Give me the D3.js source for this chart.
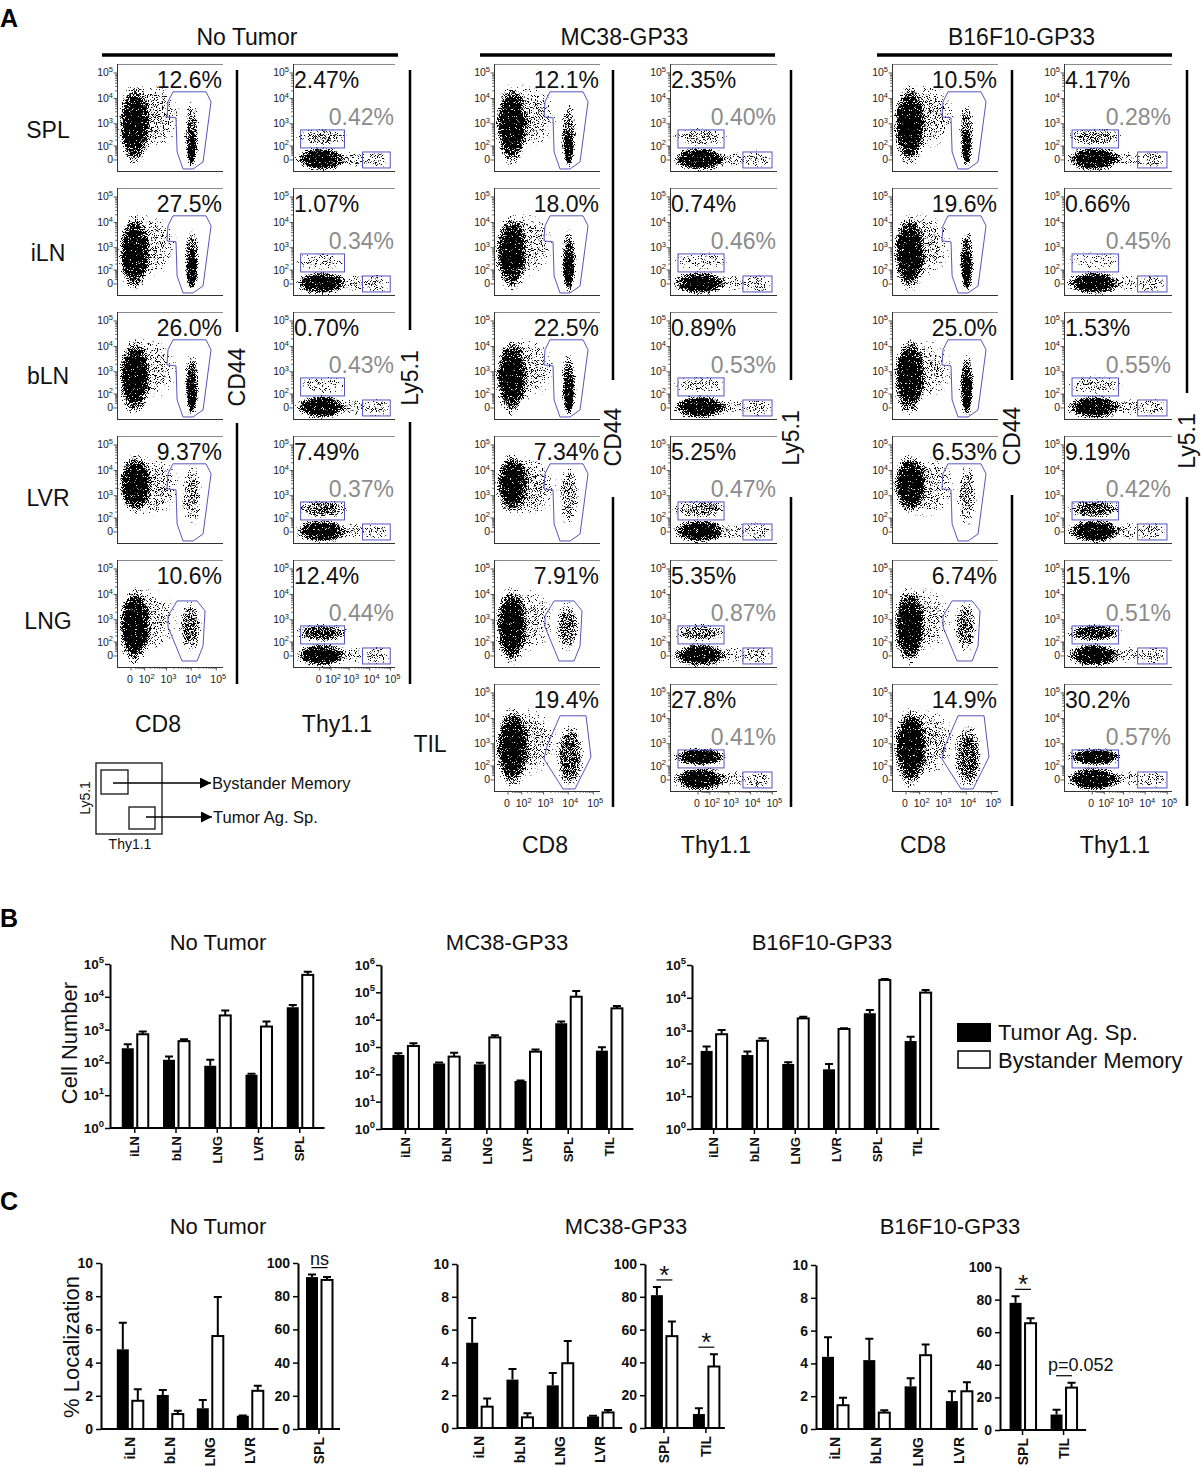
<!DOCTYPE html>
<html>
<head>
<meta charset="utf-8">
<script src="https://cdn.jsdelivr.net/npm/d3@7"></script>
<style>
  body { margin: 0; background: #fff; }
  svg { display: block; }
</style>
</head>
<body>
<script>
// ---------- data: panel A (flow cytometry) ----------
const GROUPS = ["No Tumor", "MC38-GP33", "B16F10-GP33"];
const FLOW_TISSUES = ["SPL", "iLN", "bLN", "LVR", "LNG", "TIL"];
const cd8Pct = [
  [12.6, 27.5, 26.0, 9.37, 10.6],
  [12.1, 18.0, 22.5, 7.34, 7.91, 19.4],
  [10.5, 19.6, 25.0, 6.53, 6.74, 14.9]
];
const bystanderPct = [
  [2.47, 1.07, 0.70, 7.49, 12.4],
  [2.35, 0.74, 0.89, 5.25, 5.35, 27.8],
  [4.17, 0.66, 1.53, 9.19, 15.1, 30.2]
];
const tumorAgPct = [
  [0.42, 0.34, 0.43, 0.37, 0.44],
  [0.40, 0.46, 0.53, 0.47, 0.87, 0.41],
  [0.28, 0.45, 0.55, 0.42, 0.51, 0.57]
];
const flowMajorTicks = [0, 1e2, 1e3, 1e4, 1e5];

// populations as density clouds in data units: x range, y range, relative density
const cd8Clouds = {
  SPL: [{x: [-95, 220], y: [-40, 40000], d: 1}, {x: [-90, 4000], y: [60, 40000], d: 0.42}, {x: [5000, 22000], y: [-60, 9000], d: 0.6}, {x: [6500, 16000], y: [-40, 700], d: 0.95}],
  iLN: [{x: [-95, 220], y: [-50, 22000], d: 1}, {x: [-90, 3000], y: [30, 25000], d: 0.38}, {x: [5000, 22000], y: [-60, 6000], d: 0.75}, {x: [6500, 17000], y: [-40, 1000], d: 1}],
  bLN: [{x: [-95, 220], y: [-50, 22000], d: 1}, {x: [-90, 3000], y: [30, 25000], d: 0.38}, {x: [5000, 22000], y: [-60, 6000], d: 0.75}, {x: [6500, 17000], y: [-40, 1000], d: 1}],
  LVR: [{x: [-95, 240], y: [150, 50000], d: 1}, {x: [-90, 4000], y: [100, 40000], d: 0.42}, {x: [4000, 28000], y: [20, 20000], d: 0.48}],
  LNG: [{x: [-95, 220], y: [-60, 22000], d: 1}, {x: [-90, 3000], y: [10, 20000], d: 0.38}, {x: [3000, 28000], y: [10, 6000], d: 0.6}],
  TIL: [{x: [-95, 260], y: [-60, 30000], d: 1}, {x: [-90, 4000], y: [10, 30000], d: 0.42}, {x: [3000, 45000], y: [-60, 7000], d: 0.7}]
};
const cd8Gates = {
  tall: [[1840, 18300], [38900, 18300], [61600, 7440], [29600, -8], [11800, -50], [4680, -50], [2700, 42], [2440, 1720], [1040, 1880], [1150, 7440]],
  short: [[2700, 5600], [17100, 5600], [35500, 2260], [29600, 58], [17100, -23], [4280, -23], [2700, 35], [1150, 505], [1150, 1425]],
  til: [[4680, 12800], [51400, 12800], [80800, 276], [18700, -50], [6200, -50], [1040, 225], [1400, 818]]
};
const thyMainCloud = {x: [-650, 1000], y: [-75, 95], d: 1};
const thyTrailCloud = {x: [300, 9000], y: [-40, 55], d: 0.32};
const thyTumorCloud = {x: [4000, 100000], y: [-50, 60], d: 0.38};
const thyBystRange = {x: [-600, 1000], y: [95, 720]};
const thyGates = {bystander: {x: [-290, 580], y: [78, 556]}, tumor: {x: [4500, 97000], y: [-42, 42]}};

// ---------- data: panel B (cell number, log) ----------
const countTissues = [
  ["iLN", "bLN", "LNG", "LVR", "SPL"],
  ["iLN", "bLN", "LNG", "LVR", "SPL", "TIL"],
  ["iLN", "bLN", "LNG", "LVR", "SPL", "TIL"]
];
const countTumorAg = [[270, 120, 79, 42, 4800], [510, 250, 232, 57, 7400, 735], [240, 180, 96, 66, 3380, 480]];
const countTumorAgErr = [[360, 150, 120, 45, 5650], [590, 270, 268, 60, 8500, 970], [325, 230, 108, 96, 4250, 655]];
const countBystander = [[720, 445, 2700, 1240, 46500], [1090, 445, 2250, 675, 69000, 26000], [775, 490, 2360, 1120, 35000, 14400]];
const countBystanderErr = [[870, 510, 3800, 1770, 58500], [1360, 620, 2670, 815, 112000, 31600], [1040, 580, 2660, 1170, 37500, 17300]];
const countMaxExp = [5, 6, 5];
const legendLabels = ["Tumor Ag. Sp.", "Bystander Memory"];

// ---------- data: panel C (% localization) ----------
const locSmallTissues = ["iLN", "bLN", "LNG", "LVR"];
const locTumorSmall = [[4.8, 2.05, 1.25, 0.8], [5.2, 2.95, 2.6, 0.7], [4.4, 4.2, 2.6, 1.7]];
const locTumorSmallErr = [[6.4, 2.35, 1.75, 0.82], [6.7, 3.6, 3.35, 0.75], [5.6, 5.5, 3.1, 2.3]];
const locBystSmall = [[1.7, 0.9, 5.6, 2.3], [1.3, 0.65, 3.95, 0.95], [1.45, 1.0, 4.5, 2.3]];
const locBystSmallErr = [[2.4, 1.1, 7.95, 2.6], [1.8, 0.9, 5.3, 1.1], [1.9, 1.15, 5.15, 2.85]];
const locBigTissues = [["SPL"], ["SPL", "TIL"], ["SPL", "TIL"]];
const locTumorBig = [[91.5], [81, 8.5], [78, 9.5]];
const locTumorBigErr = [[93], [86, 12], [82, 12.5]];
const locBystBig = [[89.8], [56, 37.5], [65.5, 26]];
const locBystBigErr = [[91.5], [65, 45], [68.5, 29]];
const locSignif = [["ns"], ["*", "*"], ["*", "p=0.052"]];

// ---------- layout ----------
const W = 1201, H = 1467;
const FONT = "'Liberation Sans', Arial, Helvetica, sans-serif";
const ROW_TOP0 = 64, ROW_STEP = 124, PLOT_H = 107, CD8_W = 106;
const ROW_LABEL_Y = [130, 253, 376, 498, 621, 744];
const A_LAYOUT = [
  {cd8X: 117, thyX: 293, thyW: 102, head: [102, 398], cd44X: 237, lyX: 410, lineEnd: 684, cd44Gap: [332, 423], lyGap: [330, 422], cd44Y: 377, lyY: 378, axY: 732, cd8LabX: 158, thyLabX: 337},
  {cd8X: 494, thyX: 670, thyW: 107, head: [480, 775], cd44X: 613, lyX: 791, lineEnd: 807, cd44Gap: [380, 497], lyGap: [380, 497], cd44Y: 437, lyY: 438, axY: 853, cd8LabX: 545, thyLabX: 716},
  {cd8X: 892, thyX: 1064, thyW: 108, head: [877, 1172], cd44X: 1012, lyX: 1187, lineEnd: 806, cd44Gap: [380, 495], lyGap: [393, 497], cd44Y: 436, lyY: 441, axY: 853, cd8LabX: 923, thyLabX: 1115}
];
const B_LAYOUT = [
  {x0: 110, step: 41.25, pad: 0.6, yTop: 964, yBot: 1128, titleX: 218},
  {x0: 381, step: 40.7, pad: 0.6, yTop: 965, yBot: 1129, titleX: 507},
  {x0: 692, step: 40.8, pad: 0.53, yTop: 965, yBot: 1129, titleX: 822}
];
const C_LAYOUT = [
  {small: {x0: 101, step: 40, pad: 0.72}, big: {x0: 298, step: 42, pad: 0.5}, yTop: 1263, yBot: 1429, bigTop: 1263, bigBot: 1429, titleX: 218},
  {small: {x0: 457, step: 40.3, pad: 0.55}, big: {x0: 645, step: 42, pad: 0.45}, yTop: 1264, yBot: 1428, bigTop: 1264, bigBot: 1428, titleX: 626},
  {small: {x0: 816, step: 41.3, pad: 0.46}, big: {x0: 1000, step: 41, pad: 0.55}, yTop: 1265, yBot: 1429, bigTop: 1267, bigBot: 1430, titleX: 950}
];

const svg = d3.select("body").append("svg")
  .attr("width", W).attr("height", H)
  .attr("viewBox", `0 0 ${W} ${H}`)
  .attr("font-family", FONT);
svg.append("rect").attr("width", W).attr("height", H).attr("fill", "#fff");
const defs = svg.append("defs");

// soft cloud + speckle filter so the clouds read as dot plots
const grad = defs.append("radialGradient").attr("id", "cloudGrad");
grad.selectAll("stop")
  .data([[0, 1], [0.45, 1], [0.66, 0.8], [0.85, 0.36], [1, 0]])
  .join("stop")
  .attr("offset", d => d[0])
  .attr("stop-color", "#000")
  .attr("stop-opacity", d => d[1]);
const filt = defs.append("filter").attr("id", "speckle")
  .attr("x", "-10%").attr("y", "-10%").attr("width", "120%").attr("height", "120%")
  .attr("color-interpolation-filters", "sRGB");
filt.append("feTurbulence").attr("type", "fractalNoise").attr("baseFrequency", 1.15)
  .attr("numOctaves", 1).attr("seed", 5).attr("result", "noise");
filt.append("feColorMatrix").attr("in", "noise").attr("type", "matrix")
  .attr("values", "0 0 0 0 0  0 0 0 0 0  0 0 0 0 0  2.3 0 0 0 -0.65").attr("result", "na");
filt.append("feComposite").attr("in", "SourceAlpha").attr("in2", "na").attr("operator", "arithmetic")
  .attr("k1", 0).attr("k2", 1).attr("k3", -1).attr("k4", 0).attr("result", "diff");
filt.append("feComponentTransfer").attr("in", "diff")
  .append("feFuncA").attr("type", "linear").attr("slope", 7).attr("intercept", 0);

defs.append("marker").attr("id", "arrow")
  .attr("viewBox", "0 -5 10 10").attr("refX", 10).attr("refY", 0)
  .attr("markerUnits", "userSpaceOnUse").attr("markerWidth", 11).attr("markerHeight", 11)
  .attr("orient", "auto")
  .append("path").attr("d", "M0,-5L10,0L0,5Z").attr("fill", "#000");

function txt(g, x, y, s, size, o = {}) {
  return g.append("text")
    .attr("x", x).attr("y", y)
    .attr("font-size", size)
    .attr("text-anchor", o.anchor || "start")
    .attr("font-weight", o.weight || "normal")
    .attr("fill", o.fill || "#111")
    .text(s);
}
function rotTxt(g, x, y, s, size, o = {}) {
  return g.append("text")
    .attr("transform", `translate(${x},${y}) rotate(-90)`)
    .attr("font-size", size)
    .attr("text-anchor", o.anchor || "middle")
    .attr("font-weight", o.weight || "normal")
    .attr("fill", "#111")
    .text(s);
}
function powLabel(g, x, y, v, size, supSize, o = {}) {
  const t = g.append("text").attr("x", x).attr("y", y).attr("font-size", size)
    .attr("text-anchor", o.anchor || "end").attr("font-weight", o.weight || "normal")
    .attr("fill", o.fill || "#111");
  if (v === 0) { t.text("0"); return t; }
  t.append("tspan").text("10");
  t.append("tspan").attr("dy", -size * 0.42).attr("font-size", supSize).text(Math.round(Math.log10(v)));
  return t;
}
const fmtPct = v => (v >= 10 ? v.toFixed(1) : v.toFixed(2)) + "%";
const bystDensity = d3.scaleSqrt().domain([0, 30]).range([0.18, 1.08]).clamp(true);

// ---------- panel A ----------
let clipN = 0;
function flowPlot(kind, L, T, w, clouds, gate, showX) {
  const y = d3.scaleSymlog().constant(40).domain([-68, 224000]).range([T + PLOT_H, T]);
  const x = kind === "cd8"
    ? d3.scaleSymlog().constant(40).domain([-105, 185000]).range([L, L + w])
    : d3.scaleSymlog().constant(40).domain([-725, 164000]).range([L, L + w]);
  const g = svg.append("g");
  const id = "clip" + (clipN++);
  defs.append("clipPath").attr("id", id)
    .append("rect").attr("x", L + 1).attr("y", T + 1).attr("width", w - 1).attr("height", PLOT_H - 1);
  g.append("g").attr("clip-path", `url(#${id})`)
    .append("g").attr("filter", "url(#speckle)")
    .selectAll("ellipse").data(clouds).join("ellipse")
    .attr("cx", d => (x(d.x[0]) + x(d.x[1])) / 2)
    .attr("cy", d => (y(d.y[0]) + y(d.y[1])) / 2)
    .attr("rx", d => Math.abs(x(d.x[1]) - x(d.x[0])) / 2)
    .attr("ry", d => Math.abs(y(d.y[1]) - y(d.y[0])) / 2)
    .attr("fill", "url(#cloudGrad)")
    .attr("fill-opacity", d => d.d);

  const gateStroke = "#5656bd";
  if (kind === "cd8") {
    g.append("polygon")
      .attr("points", gate.map(p => [x(p[0]), y(p[1])].join(",")).join(" "))
      .attr("fill", "none").attr("stroke", gateStroke).attr("stroke-width", 1);
  } else {
    g.selectAll("rect.gate").data([thyGates.bystander, thyGates.tumor]).join("rect")
      .attr("class", "gate")
      .attr("x", d => x(d.x[0])).attr("y", d => y(d.y[1]))
      .attr("width", d => x(d.x[1]) - x(d.x[0]))
      .attr("height", d => y(d.y[0]) - y(d.y[1]))
      .attr("fill", "none").attr("stroke", gateStroke).attr("stroke-width", 1);
  }

  // frame: light top, dark left and bottom axes
  g.append("line").attr("x1", L).attr("x2", L + w).attr("y1", T + 0.5).attr("y2", T + 0.5)
    .attr("stroke", "#8a8a8a").attr("stroke-width", 1);
  g.append("line").attr("x1", L + 0.5).attr("x2", L + 0.5).attr("y1", T).attr("y2", T + PLOT_H)
    .attr("stroke", "#333").attr("stroke-width", 1);
  g.append("line").attr("x1", L).attr("x2", L + w).attr("y1", T + PLOT_H + 0.5).attr("y2", T + PLOT_H + 0.5)
    .attr("stroke", "#333").attr("stroke-width", 1);

  const minors = d3.range(1, 5).flatMap(k => d3.range(2, 10).map(m => m * 10 ** k));
  const tickPath = [];
  flowMajorTicks.forEach(v => tickPath.push(`M${L},${y(v)}h-3.5`));
  minors.forEach(v => tickPath.push(`M${L},${y(v)}h-1.8`));
  if (showX) {
    flowMajorTicks.forEach(v => tickPath.push(`M${x(v)},${T + PLOT_H}v3.5`));
    minors.forEach(v => tickPath.push(`M${x(v)},${T + PLOT_H}v1.8`));
  }
  g.append("path").attr("d", tickPath.join("")).attr("stroke", "#333").attr("stroke-width", 0.8).attr("fill", "none");

  flowMajorTicks.forEach(v => powLabel(g, L - 4, y(v) + 3.5, v, 10.5, 7.5, {fill: "#222"}));
  if (showX) {
    flowMajorTicks.forEach(v => powLabel(g, x(v) + (v === 0 ? -1 : 2), T + PLOT_H + 16, v, 10.5, 7.5, {fill: "#222", anchor: "middle"}));
  }
}

function splitLine(x, y0, y1, gap, label, labelY) {
  svg.append("line").attr("x1", x).attr("x2", x).attr("y1", y0).attr("y2", gap[0])
    .attr("stroke", "#000").attr("stroke-width", 2.5);
  svg.append("line").attr("x1", x).attr("x2", x).attr("y1", gap[1]).attr("y2", y1)
    .attr("stroke", "#000").attr("stroke-width", 2.5);
  rotTxt(svg, x + 8, labelY, label, 23);
}

txt(svg, 0, 27, "A", 25, {weight: "bold", fill: "#000"});

GROUPS.forEach((name, gi) => {
  const lay = A_LAYOUT[gi];
  txt(svg, (lay.head[0] + lay.head[1]) / 2 - 3, 45, name, 23, {anchor: "middle"});
  svg.append("line").attr("x1", lay.head[0]).attr("x2", lay.head[1]).attr("y1", 55).attr("y2", 55)
    .attr("stroke", "#000").attr("stroke-width", 3.5);

  const nRows = cd8Pct[gi].length;
  cd8Pct[gi].forEach((p, ri) => {
    const T = ROW_TOP0 + ri * ROW_STEP;
    const tissue = FLOW_TISSUES[ri];
    const last = ri === nRows - 1;
    const gateKind = tissue === "TIL" ? "til" : tissue === "LNG" ? "short" : "tall";
    flowPlot("cd8", lay.cd8X, T, CD8_W, cd8Clouds[tissue], cd8Gates[gateKind], last);
    const bd = bystDensity(bystanderPct[gi][ri]);
    const thyClouds = [thyMainCloud, thyTrailCloud, thyTumorCloud, {x: thyBystRange.x, y: thyBystRange.y, d: bd}];
    flowPlot("thy", lay.thyX, T, lay.thyW, thyClouds, null, last);

    txt(svg, lay.cd8X + CD8_W - 1, T + 24, fmtPct(p), 23, {anchor: "end"});
    txt(svg, lay.thyX + 1, T + 24, fmtPct(bystanderPct[gi][ri]), 23);
    txt(svg, lay.thyX + lay.thyW - 1, T + 61, fmtPct(tumorAgPct[gi][ri]), 23, {anchor: "end", fill: "#8c8c8c"});
  });

  splitLine(lay.cd44X, 70, lay.lineEnd, lay.cd44Gap, "CD44", lay.cd44Y);
  splitLine(lay.lyX, 70, lay.lineEnd, lay.lyGap, "Ly5.1", lay.lyY);
  txt(svg, lay.cd8LabX, lay.axY, "CD8", 23, {anchor: "middle"});
  txt(svg, lay.thyLabX, lay.axY, "Thy1.1", 23, {anchor: "middle"});
});

FLOW_TISSUES.forEach((t, ri) => {
  const x = t === "TIL" ? 430 : 48;
  txt(svg, x, ROW_LABEL_Y[ri] + 8, t, 23, {anchor: "middle"});
});

// gating schematic
const sch = svg.append("g").attr("stroke-linejoin", "miter");
sch.append("rect").attr("x", 96).attr("y", 763).attr("width", 66).attr("height", 71)
  .attr("fill", "none").attr("stroke", "#111").attr("stroke-width", 1.3);
sch.append("rect").attr("x", 101).attr("y", 770).attr("width", 27).attr("height", 24)
  .attr("fill", "none").attr("stroke", "#111").attr("stroke-width", 1.3);
sch.append("rect").attr("x", 129).attr("y", 807).attr("width", 26).attr("height", 22)
  .attr("fill", "none").attr("stroke", "#111").attr("stroke-width", 1.3);
sch.append("line").attr("x1", 113).attr("y1", 783).attr("x2", 211).attr("y2", 783)
  .attr("stroke", "#000").attr("stroke-width", 1.3).attr("marker-end", "url(#arrow)");
sch.append("line").attr("x1", 146).attr("y1", 817).attr("x2", 212).attr("y2", 817)
  .attr("stroke", "#000").attr("stroke-width", 1.3).attr("marker-end", "url(#arrow)");
rotTxt(sch, 90, 798, "Ly5.1", 14);
txt(sch, 130, 849, "Thy1.1", 14, {anchor: "middle"});
txt(sch, 212, 789, legendLabels[1], 16.5);
txt(sch, 213, 823, legendLabels[0], 16.5);

// ---------- shared bar drawing ----------
function drawPairs(g, x, y, rows, base) {
  const bw = 12;
  const pg = g.append("g").selectAll("g").data(rows).join("g");
  pg.append("rect")
    .attr("x", d => x(d.c) - bw - 1).attr("y", d => y(d.t))
    .attr("width", bw).attr("height", d => base - y(d.t))
    .attr("fill", "#000");
  pg.append("rect")
    .attr("x", d => x(d.c) + 2.5).attr("y", d => y(d.b))
    .attr("width", bw - 1).attr("height", d => base - y(d.b))
    .attr("fill", "#fff").attr("stroke", "#000").attr("stroke-width", 2);
  const err = [
    {cx: d => x(d.c) - bw / 2 - 1, v: d => d.t, e: d => d.te},
    {cx: d => x(d.c) + 2.5 + (bw - 1) / 2, v: d => d.b, e: d => d.be}
  ];
  err.forEach(k => {
    pg.append("path")
      .attr("d", d => `M${k.cx(d)},${y(k.v(d))}V${y(k.e(d))}M${k.cx(d) - 4},${y(k.e(d))}H${k.cx(d) + 4}`)
      .attr("stroke", "#000").attr("stroke-width", 2).attr("fill", "none");
  });
}
function xAxisCats(g, x, base, cats, size) {
  const r = x.range();
  g.append("line").attr("x1", r[0]).attr("x2", r[1]).attr("y1", base).attr("y2", base)
    .attr("stroke", "#000").attr("stroke-width", 2);
  g.selectAll("path.tk").data(cats).join("path").attr("class", "tk")
    .attr("d", c => `M${x(c)},${base}v5`).attr("stroke", "#000").attr("stroke-width", 1.5);
  cats.forEach(c => rotTxt(g, x(c) + size * 0.36, base + 8, c, size, {anchor: "end", weight: "bold"}));
}
function styleAxis(a) {
  a.select(".domain").attr("stroke-width", 2);
  a.selectAll(".tick line").attr("stroke-width", 1.5);
}

// ---------- panel B ----------
txt(svg, 0, 927, "B", 25, {weight: "bold", fill: "#000"});
GROUPS.forEach((name, i) => {
  const lay = B_LAYOUT[i];
  const cats = countTissues[i];
  const n = cats.length;
  const x = d3.scalePoint().domain(cats)
    .range([lay.x0, lay.x0 + lay.step * (n - 1 + 2 * lay.pad)]).padding(lay.pad);
  const y = d3.scaleLog().domain([1, 10 ** countMaxExp[i]]).range([lay.yBot, lay.yTop]);
  const g = svg.append("g");
  txt(g, lay.titleX, 950, name, 22, {anchor: "middle"});
  const rows = cats.map((c, j) => ({c, t: countTumorAg[i][j], te: countTumorAgErr[i][j], b: countBystander[i][j], be: countBystanderErr[i][j]}));
  drawPairs(g, x, y, rows, y(1));
  const ticks = d3.range(0, countMaxExp[i] + 1).map(e => 10 ** e);
  const ya = g.append("g").attr("transform", `translate(${lay.x0},0)`)
    .call(d3.axisLeft(y).tickValues(ticks).tickFormat("").tickSize(5).tickSizeOuter(0));
  styleAxis(ya);
  ticks.forEach(v => {
    const t = g.append("text").attr("x", lay.x0 - 6).attr("y", y(v) + 5)
      .attr("font-size", 13.5).attr("font-weight", "bold").attr("text-anchor", "end").attr("fill", "#111");
    t.append("tspan").text("10");
    t.append("tspan").attr("dy", -6).attr("font-size", 9.5).text(Math.log10(v));
  });
  xAxisCats(g, x, y(1), cats, 13);
});
rotTxt(svg, 77, 1043, "Cell Number", 22);

// legend
const leg = svg.append("g");
leg.append("rect").attr("x", 957).attr("y", 1023).attr("width", 34).attr("height", 19).attr("fill", "#000");
leg.append("rect").attr("x", 958).attr("y", 1051).attr("width", 32).attr("height", 17)
  .attr("fill", "#fff").attr("stroke", "#000").attr("stroke-width", 1.5);
txt(leg, 998, 1040, legendLabels[0], 22);
txt(leg, 998, 1068, legendLabels[1], 22);

// ---------- panel C ----------
txt(svg, 0, 1210, "C", 25, {weight: "bold", fill: "#000"});
GROUPS.forEach((name, i) => {
  const lay = C_LAYOUT[i];
  const g = svg.append("g");
  txt(g, lay.titleX, 1234, name, 22, {anchor: "middle"});

  // small-value tissues (0-10)
  const sc = locSmallTissues;
  const xs = d3.scalePoint().domain(sc)
    .range([lay.small.x0, lay.small.x0 + lay.small.step * (sc.length - 1 + 2 * lay.small.pad)]).padding(lay.small.pad);
  const ys = d3.scaleLinear().domain([0, 10]).range([lay.yBot, lay.yTop]);
  drawPairs(g, xs, ys, sc.map((c, j) => ({c, t: locTumorSmall[i][j], te: locTumorSmallErr[i][j], b: locBystSmall[i][j], be: locBystSmallErr[i][j]})), ys(0));
  const ya = g.append("g").attr("transform", `translate(${lay.small.x0},0)`)
    .call(d3.axisLeft(ys).tickValues([0, 2, 4, 6, 8, 10]).tickSize(5).tickSizeOuter(0));
  styleAxis(ya);
  ya.selectAll(".tick text").attr("font-size", 14).attr("font-weight", "bold").attr("font-family", FONT).attr("fill", "#111");
  xAxisCats(g, xs, ys(0), sc, 14);

  // large-value tissues (0-100)
  const bc = locBigTissues[i];
  const xb = d3.scalePoint().domain(bc)
    .range([lay.big.x0, lay.big.x0 + lay.big.step * (bc.length - 1 + 2 * lay.big.pad)]).padding(lay.big.pad);
  const yb = d3.scaleLinear().domain([0, 100]).range([lay.bigBot, lay.bigTop]);
  const rows = bc.map((c, j) => ({c, t: locTumorBig[i][j], te: locTumorBigErr[i][j], b: locBystBig[i][j], be: locBystBigErr[i][j], s: locSignif[i][j]}));
  drawPairs(g, xb, yb, rows, yb(0));
  const yab = g.append("g").attr("transform", `translate(${lay.big.x0},0)`)
    .call(d3.axisLeft(yb).tickValues([0, 20, 40, 60, 80, 100]).tickSize(5).tickSizeOuter(0));
  styleAxis(yab);
  yab.selectAll(".tick text").attr("font-size", 14).attr("font-weight", "bold").attr("font-family", FONT).attr("fill", "#111");
  xAxisCats(g, xb, yb(0), bc, 14);

  // significance marks
  rows.forEach(d => {
    const cx = xb(d.c) + 0.5;
    const ly = yb(Math.max(d.te, d.be)) - 7;
    g.append("line").attr("x1", cx - 8).attr("x2", cx + 8).attr("y1", ly).attr("y2", ly)
      .attr("stroke", "#000").attr("stroke-width", 1.2);
    if (d.s === "*") txt(g, cx, ly + 12, "*", 26, {anchor: "middle"}).attr("dy", -8);
    else if (d.s.startsWith("p")) txt(g, cx - 16, ly - 5, d.s, 18);
    else txt(g, cx, ly - 3, d.s, 18, {anchor: "middle"});
  });
});
rotTxt(svg, 79, 1347, "% Localization", 22);
</script>
</body>
</html>
